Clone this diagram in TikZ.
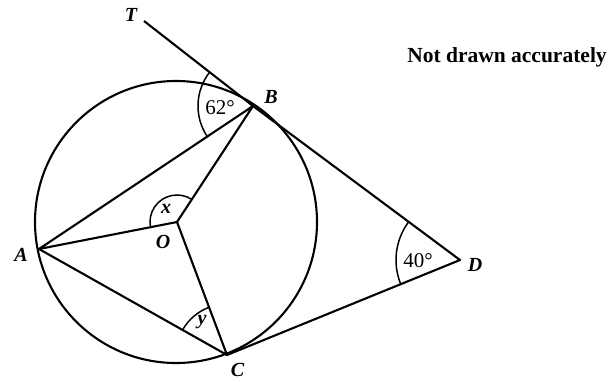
\documentclass[tikz,border=0pt]{standalone}
\usepackage{fontspec}
\setmainfont{Liberation Serif}
\usetikzlibrary{angles}

\begin{document}
\begin{tikzpicture}[x=1pt,y=1pt,
  seg/.style={line width=2.1pt,line join=round},
  arcmk/.style={draw,line width=1.5pt},
  lbl/.style={inner sep=0pt,font=\fontsize{20}{20}\selectfont\bfseries\itshape},
  deg/.style={inner sep=0pt,font=\fontsize{21}{21}\selectfont}]
\useasboundingbox (0,0) rectangle (609,381);
% points
\coordinate (O) at (177,159);
\coordinate (A) at (39,132);
\coordinate (B) at (253,275);
\coordinate (C) at (227,26);
\coordinate (D) at (460,121);
\coordinate (Tp) at (144,360);
% circle and segments
\draw[seg] (176,159) circle[radius=141];
\draw[seg] (Tp) -- (B) -- (D) -- (C);
\draw[seg] (B) -- (A) -- (O) -- (B);
\draw[seg] (A) -- (C) -- (O);
% angle marks
\pic[arcmk,angle radius=55] {angle=Tp--B--A};
\pic[arcmk,angle radius=27] {angle=B--O--A};
\pic[arcmk,angle radius=51] {angle=O--C--A};
\pic[arcmk,angle radius=64] {angle=B--D--C};
% labels
\node[lbl] (lT) at (131,366) {T};
\node[lbl] (lB) at (271,284.5) {B};
\node[lbl] (lA) at (21,126) {A};
\node[lbl] (lO) at (163,139) {O};
\node[lbl] (lC) at (237.5,11.5) {C};
\node[lbl] (lD) at (475,116) {D};
\node[lbl] (lx) at (166,172) {x};
\node[lbl] (ly) at (202,59) {y};
\node[deg] (d62) at (220,273) {62°};
\node[deg] (d40) at (418,120) {40°};
\node[anchor=base,inner sep=0pt,font=\fontsize{21.5}{21.5}\selectfont\bfseries] (note) at (507,319) {Not drawn accurately};
\end{tikzpicture}
\end{document}
